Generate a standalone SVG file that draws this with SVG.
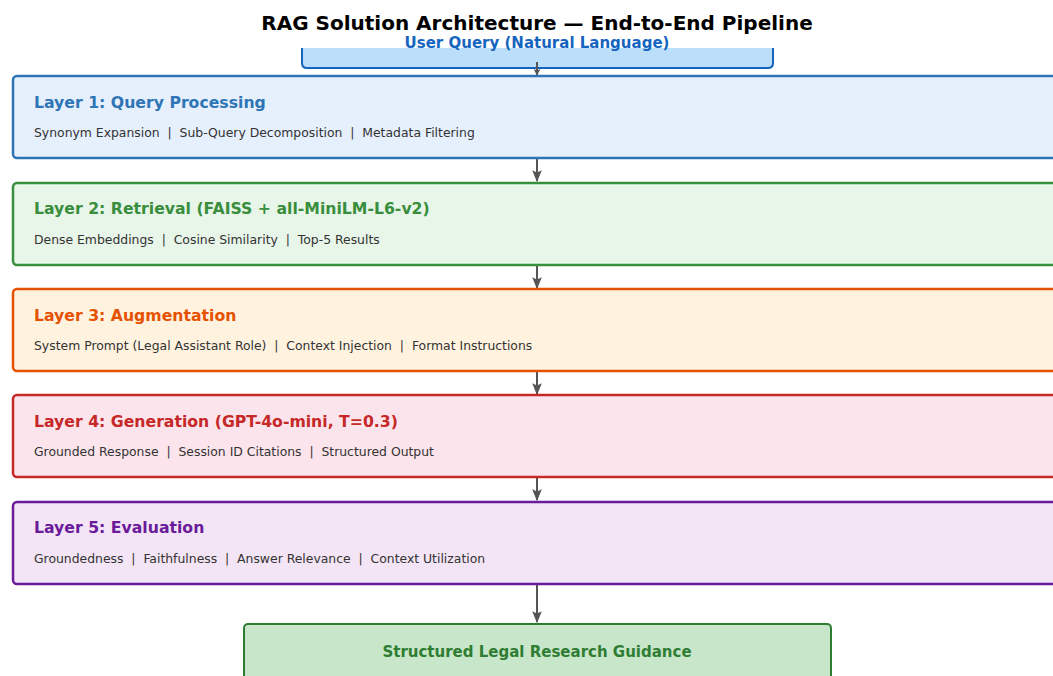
<svg xmlns="http://www.w3.org/2000/svg" width="1053" height="676" viewBox="0 0 1053 676">
  <style>
    text { font-family: "DejaVu Sans", "Noto Sans", sans-serif; white-space: pre; }
    .title { font-size: 20px; font-weight: bold; fill: #000; }
    .lt { font-size: 15.7px; font-weight: bold; }
    .sub { font-size: 12.4px; fill: #333333; }
    .box { stroke-width: 2.5; }
    .conn { stroke: #555555; stroke-width: 2; fill: none; }
  </style>
  <defs>
    <marker id="ah" viewBox="0 0 10 10" refX="9" refY="5" markerWidth="7" markerHeight="7" orient="auto" markerUnits="userSpaceOnUse">
      <path d="M0,0 L10,5 L0,10 L3,5 Z" fill="#555555"/>
    </marker>
    <marker id="ahb" viewBox="0 0 10 10" refX="9" refY="5" markerWidth="12" markerHeight="12" orient="auto" markerUnits="userSpaceOnUse">
      <path d="M0,1 L10,5 L0,9 L2,5 Z" fill="#555555"/>
    </marker>
  </defs>
  <rect width="1053" height="676" fill="#ffffff"/>

  <g id="user-query">
    <path d="M302,48 L302,63 Q302,68 307,68 L768,68 Q773,68 773,63 L773,48 Z" fill="#bbdefb"/>
    <path d="M302,48 L302,63 Q302,68 307,68 L768,68 Q773,68 773,63 L773,48" fill="none" stroke="#1565c0" stroke-width="2"/>
    <text x="537" y="48" text-anchor="middle" font-size="15" font-weight="bold" fill="#1565c0">User Query (Natural Language)</text>
  </g>

  <text class="title" x="537" y="30" text-anchor="middle">RAG Solution Architecture — End-to-End Pipeline</text>

  <g id="connectors">
    <line class="conn" x1="537" y1="62" x2="537" y2="75" marker-end="url(#ah)"/>
    <line class="conn" x1="537" y1="157" x2="537" y2="181" marker-end="url(#ahb)"/>
    <line class="conn" x1="537" y1="264" x2="537" y2="288" marker-end="url(#ahb)"/>
    <line class="conn" x1="537" y1="370" x2="537" y2="394" marker-end="url(#ahb)"/>
    <line class="conn" x1="537" y1="476" x2="537" y2="500" marker-end="url(#ahb)"/>
    <line class="conn" x1="537" y1="583" x2="537" y2="622" marker-end="url(#ahb)"/>
  </g>

  <g id="layer1">
    <rect class="box" x="13" y="76" width="1060" height="82" rx="4" fill="#e6effc" stroke="#2e75b6"/>
    <text class="lt" x="34" y="108" fill="#2e75b6">Layer 1: Query Processing</text>
    <text class="sub" x="34" y="137">Synonym Expansion  |  Sub-Query Decomposition  |  Metadata Filtering</text>
  </g>

  <g id="layer2">
    <rect class="box" x="13" y="183" width="1060" height="82" rx="4" fill="#e8f5e9" stroke="#388e3c"/>
    <text class="lt" x="34" y="214" fill="#388e3c">Layer 2: Retrieval (FAISS + all-MiniLM-L6-v2)</text>
    <text class="sub" x="34" y="244">Dense Embeddings  |  Cosine Similarity  |  Top-5 Results</text>
  </g>

  <g id="layer3">
    <rect class="box" x="13" y="289" width="1060" height="82" rx="4" fill="#fff3e0" stroke="#e65100"/>
    <text class="lt" x="34" y="321" fill="#e65100">Layer 3: Augmentation</text>
    <text class="sub" x="34" y="350">System Prompt (Legal Assistant Role)  |  Context Injection  |  Format Instructions</text>
  </g>

  <g id="layer4">
    <rect class="box" x="13" y="395" width="1060" height="82" rx="4" fill="#fce4ec" stroke="#c62828"/>
    <text class="lt" x="34" y="427" fill="#c62828">Layer 4: Generation (GPT-4o-mini, T=0.3)</text>
    <text class="sub" x="34" y="456">Grounded Response  |  Session ID Citations  |  Structured Output</text>
  </g>

  <g id="layer5">
    <rect class="box" x="13" y="502" width="1060" height="82" rx="4" fill="#f3e5f5" stroke="#6a1b9a"/>
    <text class="lt" x="34" y="533" fill="#6a1b9a">Layer 5: Evaluation</text>
    <text class="sub" x="34" y="563">Groundedness  |  Faithfulness  |  Answer Relevance  |  Context Utilization</text>
  </g>

  <g id="output">
    <rect x="244" y="624" width="587" height="70" rx="4" fill="#c8e6c9" stroke="#2e7d32" stroke-width="2"/>
    <text x="537" y="657" text-anchor="middle" font-size="15" font-weight="bold" fill="#2e7d32">Structured Legal Research Guidance</text>
  </g>
</svg>
